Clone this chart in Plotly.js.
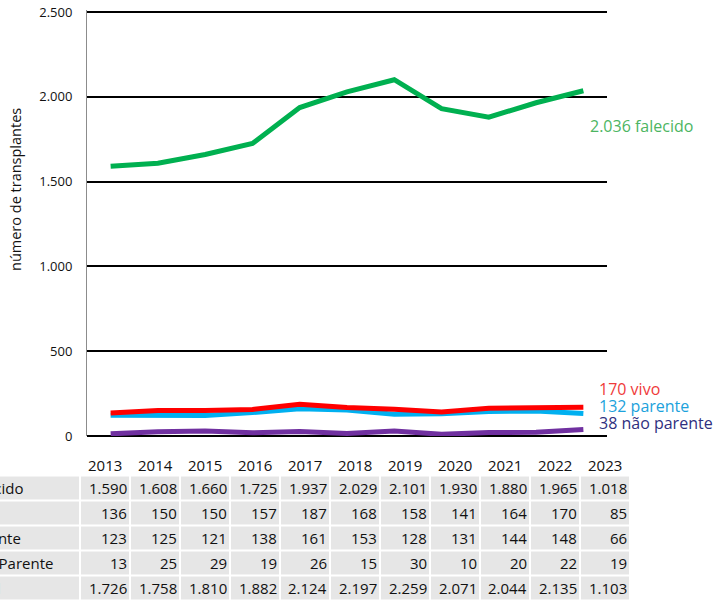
<!DOCTYPE html>
<html>
<head>
<meta charset="utf-8">
<script src="https://cdn.plot.ly/plotly-3.0.1.min.js"></script>
<style>
  html, body { margin: 0; padding: 0; background: #fff; }
  #grafico { width: 713px; height: 603px; }
</style>
</head>
<body>
<div id="grafico"></div>
<script>
// Anos do gráfico e da tabela
var anos = ["2013", "2014", "2015", "2016", "2017", "2018", "2019", "2020", "2021", "2022", "2023"];

// Séries do gráfico (2023 anualizado)
var falecido = [1590, 1608, 1660, 1725, 1937, 2029, 2101, 1930, 1880, 1965, 2036];
var vivo = [136, 150, 150, 157, 187, 168, 158, 141, 164, 170, 170];
var parente = [123, 125, 121, 138, 161, 153, 128, 131, 144, 148, 132];
var naoParente = [13, 25, 29, 19, 26, 15, 30, 10, 20, 22, 38];

// Valores da tabela
var rotulos = ["Falecido", "Vivo", "Parente", "Não Parente", "Total"];
var tabFalecido = [1590, 1608, 1660, 1725, 1937, 2029, 2101, 1930, 1880, 1965, 1018];
var tabVivo = [136, 150, 150, 157, 187, 168, 158, 141, 164, 170, 85];
var tabParente = [123, 125, 121, 138, 161, 153, 128, 131, 144, 148, 66];
var tabNaoParente = [13, 25, 29, 19, 26, 15, 30, 10, 20, 22, 19];
var tabTotal = [1726, 1758, 1810, 1882, 2124, 2197, 2259, 2071, 2044, 2135, 1103];

var W = 713, H = 603;
var fonte = "Open Sans, sans-serif";

// Formata números com ponto como separador de milhar
function fmt(n) {
  return String(n).replace(/\B(?=(\d{3})+(?!\d))/g, ".");
}

// Linhas do gráfico
var series = [
  { nome: "falecido", y: falecido, cor: "#00b050", corTexto: "#4cb562", dx: 5, dy: -35 },
  { nome: "vivo", y: vivo, cor: "#ff0000", corTexto: "#ef3b3b", dx: 14, dy: 18 },
  { nome: "parente", y: parente, cor: "#00b0f0", corTexto: "#1ca2dc", dx: 14, dy: 8 },
  { nome: "não parente", y: naoParente, cor: "#7030a0", corTexto: "#2f2f80", dx: 14, dy: 7 }
];

var data = [];
var anotacoes = [];

// Desenha na ordem: não parente por baixo, falecido por cima
series.slice().reverse().forEach(function (s) {
  data.push({
    x: anos,
    y: s.y,
    xaxis: "x",
    yaxis: "y",
    type: "scatter",
    mode: "lines",
    line: { color: s.cor, width: 5 },
    hoverinfo: "skip",
    showlegend: false
  });
});

// Rótulo no fim de cada linha (x pelo índice da categoria)
series.forEach(function (s) {
  var ult = s.y.length - 1;
  anotacoes.push({
    xref: "x", yref: "y",
    x: ult, y: s.y[ult],
    xanchor: "left", yanchor: "middle",
    xshift: s.dx, yshift: s.dy,
    showarrow: false,
    text: fmt(s.y[ult]) + " " + s.nome,
    font: { family: fonte, size: 16, color: s.corTexto }
  });
});

// Tabela: células cinzas via heatmap no eixo x2/y2
var linhasTab = [tabFalecido, tabVivo, tabParente, tabNaoParente, tabTotal];
var bordasX = [-3];
for (var i = 0; i < anos.length; i++) bordasX.push(i - 0.5);
bordasX.push(anos.length - 0.5);
var bordasY = [];
for (var r = 0; r <= rotulos.length; r++) bordasY.push(r - 0.5);
var zCel = rotulos.map(function () {
  return bordasX.slice(1).map(function () { return 1; });
});

data.push({
  type: "heatmap",
  xaxis: "x2",
  yaxis: "y2",
  x: bordasX,
  y: bordasY,
  z: zCel,
  colorscale: [[0, "#e6e6e6"], [1, "#e6e6e6"]],
  showscale: false,
  xgap: 2,
  ygap: 2,
  hoverinfo: "skip"
});

// Cabeçalho de anos
anos.forEach(function (a, i) {
  anotacoes.push({
    xref: "x2", yref: "y2", x: i, y: -0.92,
    showarrow: false, text: a,
    font: { family: fonte, size: 15, color: "#111" }
  });
});

// Rótulos (cortados à esquerda, como no original) e valores das linhas
linhasTab.forEach(function (linha, r) {
  anotacoes.push({
    xref: "paper", yref: "y2", x: -36 / W, y: r,
    xanchor: "left", showarrow: false, text: rotulos[r],
    font: { family: fonte, size: 15, color: "#111" }
  });
  linha.forEach(function (v, i) {
    anotacoes.push({
      xref: "x2", yref: "y2", x: i + 0.47, y: r,
      xanchor: "right", showarrow: false, text: fmt(v),
      font: { family: fonte, size: 15, color: "#111" }
    });
  });
});

// Título do eixo y
anotacoes.push({
  xref: "paper", yref: "paper", x: 15 / W, y: 1 - 190 / H,
  xanchor: "center", yanchor: "middle",
  textangle: -90, showarrow: false,
  text: "número de transplantes",
  font: { family: fonte, size: 14.5, color: "#111" }
});

var layout = {
  width: W,
  height: H,
  margin: { l: 0, r: 0, t: 0, b: 0 },
  paper_bgcolor: "#ffffff",
  plot_bgcolor: "rgba(0,0,0,0)",
  separators: ",.",
  font: { family: fonte, color: "#111" },
  showlegend: false,
  xaxis: {
    type: "category",
    domain: [87 / W, 607 / W],
    range: [-0.5, anos.length - 0.5],
    anchor: "y",
    showticklabels: false,
    ticks: "",
    showgrid: false,
    zeroline: false,
    showline: false,
    fixedrange: true
  },
  yaxis: {
    domain: [1 - 436 / H, 1 - 9.5 / H],
    range: [0, 2515],
    tickvals: [0, 500, 1000, 1500, 2000, 2500],
    tickformat: ",d",
    anchor: "x",
    showgrid: true,
    gridcolor: "#000000",
    gridwidth: 2,
    zeroline: true,
    zerolinecolor: "#000000",
    zerolinewidth: 2,
    showline: true,
    linecolor: "#8c8c8c",
    linewidth: 1,
    ticks: "",
    ticklabelstandoff: 11,
    tickfont: { family: fonte, size: 13, color: "#111" },
    fixedrange: true
  },
  xaxis2: {
    domain: [0, 1],
    anchor: "y2",
    range: [-105 / 50, (W - 105) / 50],
    showticklabels: false,
    showgrid: false,
    zeroline: false,
    showline: false,
    ticks: "",
    fixedrange: true
  },
  yaxis2: {
    domain: [0, 1],
    anchor: "x2",
    range: [(H - 488) / 25, -488 / 25],
    showticklabels: false,
    showgrid: false,
    zeroline: false,
    showline: false,
    ticks: "",
    fixedrange: true
  },
  annotations: anotacoes
};

Plotly.newPlot("grafico", data, layout, { displayModeBar: false, staticPlot: true });
</script>
</body>
</html>
